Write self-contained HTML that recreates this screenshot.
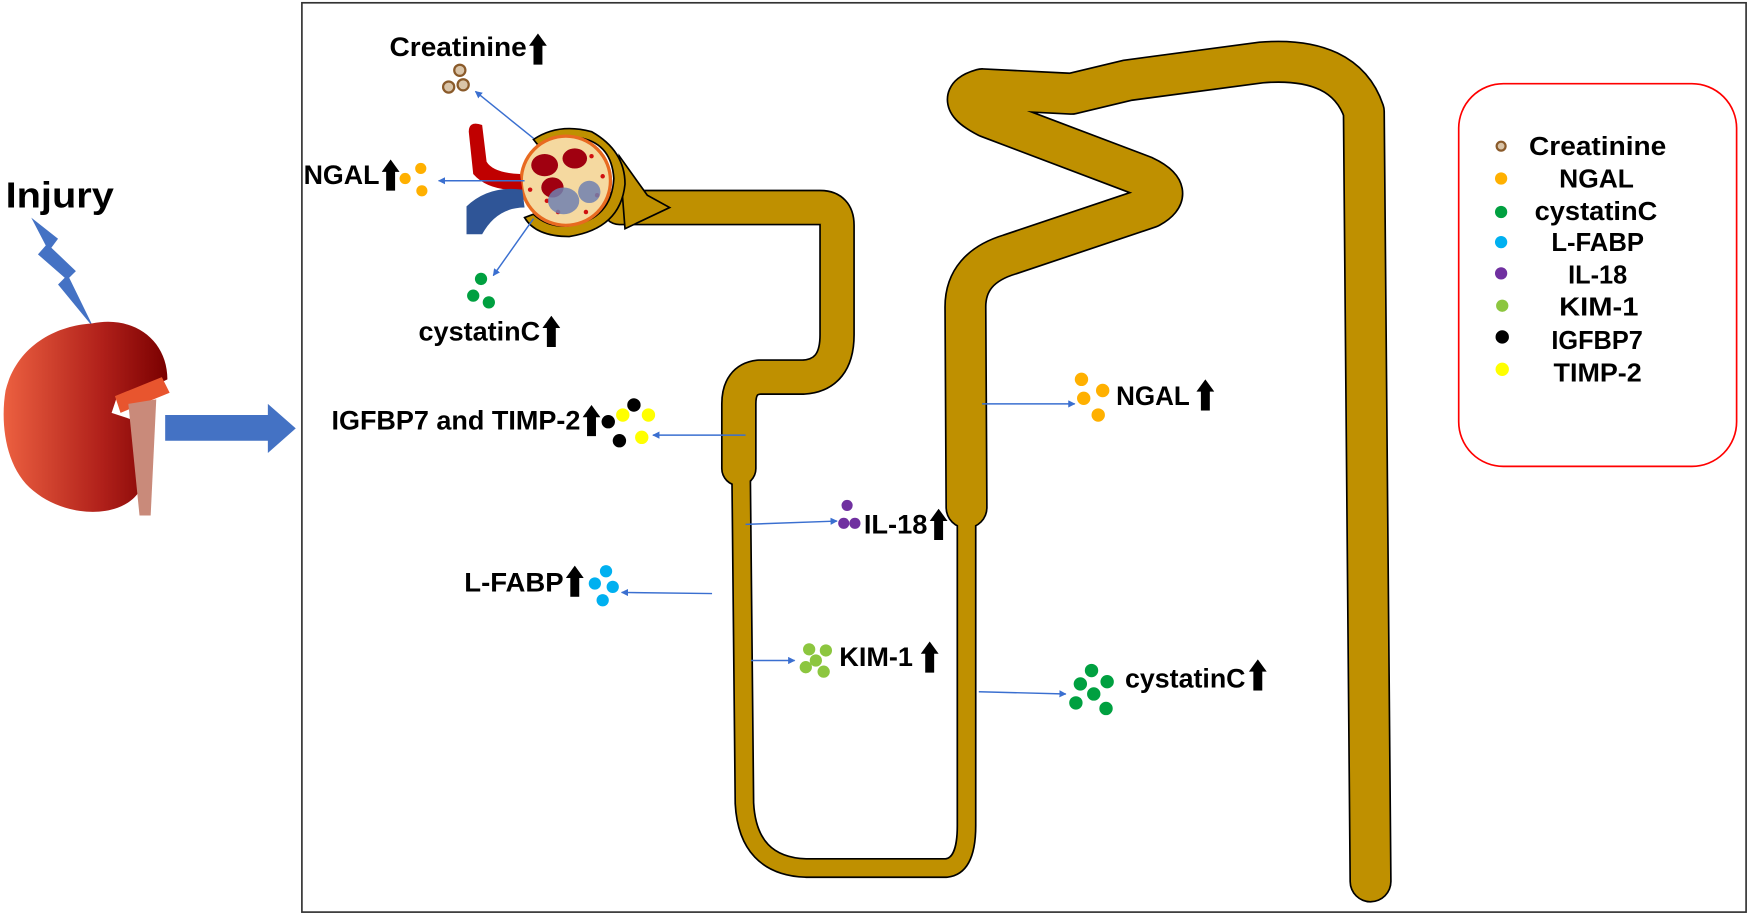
<!DOCTYPE html>
<html><head><meta charset="utf-8"><style>
html,body{margin:0;padding:0;background:#fff;}
svg{display:block;}
text{font-family:"Liberation Sans",Arial,sans-serif;font-weight:bold;fill:#000;}
</style></head><body>
<svg width="1750" height="916" viewBox="0 0 1568 821" preserveAspectRatio="none" xmlns="http://www.w3.org/2000/svg">
<defs>
<linearGradient id="kg" x1="0" x2="1" y1="0" y2="0">
<stop offset="0" stop-color="#ec6040"/><stop offset="0.6" stop-color="#b0201a"/><stop offset="1" stop-color="#7a0000"/>
</linearGradient>
<marker id="ah" viewBox="0 0 10 10" refX="9" refY="5" markerWidth="5" markerHeight="5" orient="auto"><path d="M0,0 L10,5 L0,10 z" fill="#3a6fd0"/></marker>
<symbol id="up" viewBox="0 0 16 28"><path d="M8,0 L16,11 L12,11 L12,28 L4,28 L4,11 L0,11 z" fill="#000"/></symbol>
</defs>

<rect x="270.5" y="2.5" width="1294" height="815" fill="none" stroke="#333" stroke-width="1.5"/>

<text x="5" y="186" font-size="32" textLength="97" lengthAdjust="spacingAndGlyphs">Injury</text>
<path d="M28,195 L52,214 L46,222 L68,243 L62,249 L84,294 L52,255 L58,249 L34,228 L41,220 z" fill="#4472c4"/>
<path d="M82,290 C120,282 150,305 150,340 L140,345 L105,355 L100,370 L130,380 L125,440 C110,465 60,465 30,440 C5,420 0,380 5,350 C15,310 50,292 82,290 z" fill="url(#kg)"/>
<path d="M103,355 L145,338 L152,352 L108,370 z" fill="#e8552e"/>
<path d="M115,362 L140,358 L135,462 L125,462 z" fill="#c98a7a"/>
<path d="M148,372 L240,372 L240,362 L265,384 L240,406 L240,395 L148,395 z" fill="#4472c4"/>

<g fill="none" stroke-linecap="round" stroke-linejoin="round">
<path d="M555,186 L735,186 Q750,186 750,202 L750,300 Q750,336 720,338 L680,338 Q662,340 662,362 L662,420" stroke="#000" stroke-width="32"/>
<path d="M664,420 L667,720 Q670,776 722,778 L848,778 Q866,776 866,740 L866,450" stroke="#000" stroke-width="18"/>
<path d="M866,455 L865,275 Q865,240 905,228 L1030,186 Q1055,172 1025,158 L885,105 Q852,88 880,80 L960,84 L1010,72 L1130,56 Q1205,50 1222,100 L1228,790" stroke="#000" stroke-width="38"/>
<path d="M555,186 L735,186 Q750,186 750,202 L750,300 Q750,336 720,338 L680,338 Q662,340 662,362 L662,420" stroke="#bf9000" stroke-width="29"/>
<path d="M664,420 L667,720 Q670,776 722,778 L848,778 Q866,776 866,740 L866,450" stroke="#bf9000" stroke-width="15"/>
<path d="M866,455 L865,275 Q865,240 905,228 L1030,186 Q1055,172 1025,158 L885,105 Q852,88 880,80 L960,84 L1010,72 L1130,56 Q1205,50 1222,100 L1228,790" stroke="#bf9000" stroke-width="35"/>
</g>
<path d="M555,140 L580,175 L600,186 L560,205 Z" fill="#bf9000" stroke="#000" stroke-width="1.5"/>
<path d="M478,125 Q500,110 530,118 Q560,135 560,165 Q556,205 510,212 Q480,212 470,195 L478,192 Q492,205 512,202 Q548,196 550,160 Q548,130 522,124 Q500,120 482,130 z" fill="#bf9000" stroke="#000" stroke-width="1.5"/>
<circle cx="507" cy="162" r="40" fill="#f5d9a0" stroke="#e86a20" stroke-width="3"/>
<g fill="#d01010">
<circle cx="480" cy="150" r="2"/><circle cx="490" cy="180" r="2"/><circle cx="530" cy="140" r="2"/><circle cx="535" cy="175" r="2"/><circle cx="500" cy="190" r="2"/><circle cx="525" cy="190" r="2"/><circle cx="475" cy="170" r="2"/><circle cx="540" cy="158" r="2"/>
</g>
<ellipse cx="488" cy="148" rx="12" ry="10" fill="#a00010"/>
<ellipse cx="515" cy="142" rx="11" ry="9" fill="#a00010"/>
<ellipse cx="495" cy="168" rx="10" ry="9" fill="#a00010"/>
<ellipse cx="505" cy="180" rx="14" ry="12" fill="#7080b0" opacity="0.85"/>
<ellipse cx="528" cy="172" rx="10" ry="10" fill="#7080b0" opacity="0.85"/>
<path d="M420,118 Q420,108 432,112 L436,145 Q442,155 466,156 L468,170 Q438,172 424,156 z" fill="#c00000"/>
<path d="M418,185 Q438,166 468,170 L470,186 Q445,186 432,210 L418,210 z" fill="#2f5597"/>

<g stroke="#3a6fd0" stroke-width="1.3" fill="none" marker-end="url(#ah)">
<line x1="478" y1="124" x2="426" y2="82"/>
<line x1="470" y1="162" x2="393" y2="162"/>
<line x1="478" y1="196" x2="442" y2="247"/>
<line x1="668" y1="390" x2="585" y2="390"/>
<line x1="668" y1="470" x2="750" y2="467"/>
<line x1="638" y1="532" x2="557" y2="531"/>
<line x1="673" y1="592" x2="712" y2="592"/>
<line x1="880" y1="362" x2="963" y2="362"/>
<line x1="877" y1="620" x2="955" y2="622"/>
</g>

<g font-size="24">
<text x="349" y="50" textLength="123" lengthAdjust="spacingAndGlyphs">Creatinine</text>
<text x="272" y="165" textLength="68" lengthAdjust="spacingAndGlyphs">NGAL</text>
<text x="375" y="305" textLength="109" lengthAdjust="spacingAndGlyphs">cystatinC</text>
<text x="297" y="385" textLength="223" lengthAdjust="spacingAndGlyphs">IGFBP7 and TIMP-2</text>
<text x="774" y="478" textLength="57" lengthAdjust="spacingAndGlyphs">IL-18</text>
<text x="416" y="530" textLength="89" lengthAdjust="spacingAndGlyphs">L-FABP</text>
<text x="752" y="597" textLength="66" lengthAdjust="spacingAndGlyphs">KIM-1</text>
<text x="1000" y="363" textLength="66" lengthAdjust="spacingAndGlyphs">NGAL</text>
<text x="1008" y="616" textLength="108" lengthAdjust="spacingAndGlyphs">cystatinC</text>
</g>
<use href="#up" x="474" y="30" width="16" height="28"/>
<use href="#up" x="342" y="143" width="16" height="28"/>
<use href="#up" x="486" y="283" width="16" height="28"/>
<use href="#up" x="522" y="363" width="16" height="28"/>
<use href="#up" x="833" y="456" width="16" height="28"/>
<use href="#up" x="507" y="507" width="16" height="28"/>
<use href="#up" x="825" y="575" width="16" height="28"/>
<use href="#up" x="1072" y="340" width="16" height="28"/>
<use href="#up" x="1119" y="591" width="16" height="28"/>

<g fill="#d9c4a8" stroke="#8a5a2a" stroke-width="2"><circle cx="412" cy="63" r="5"/><circle cx="402" cy="78" r="5"/><circle cx="415" cy="76" r="5"/></g>
<g fill="#ffb000"><circle cx="363" cy="160" r="5"/><circle cx="377" cy="151" r="5"/><circle cx="378" cy="171" r="5"/></g>
<g fill="#00a040"><circle cx="431" cy="250" r="5.5"/><circle cx="424" cy="265" r="5.5"/><circle cx="438" cy="271" r="5.5"/></g>
<g><circle cx="568" cy="363" r="6" fill="#000"/><circle cx="545" cy="378" r="6" fill="#000"/><circle cx="555" cy="395" r="6" fill="#000"/>
<circle cx="558" cy="372" r="6" fill="#ffff00"/><circle cx="581" cy="372" r="6" fill="#ffff00"/><circle cx="575" cy="392" r="6" fill="#ffff00"/></g>
<g fill="#7030a0"><circle cx="759" cy="453" r="5"/><circle cx="756" cy="469" r="5"/><circle cx="766" cy="469" r="5"/></g>
<g fill="#00b0f0"><circle cx="543" cy="512" r="5.5"/><circle cx="549" cy="526" r="5.5"/><circle cx="533" cy="523" r="5.5"/><circle cx="540" cy="538" r="5.5"/></g>
<g fill="#8cc63f"><circle cx="725" cy="582" r="5.5"/><circle cx="740" cy="583" r="5.5"/><circle cx="731" cy="592" r="5.5"/><circle cx="722" cy="598" r="5.5"/><circle cx="738" cy="602" r="5.5"/></g>
<g fill="#ffb000"><circle cx="969" cy="340" r="6"/><circle cx="988" cy="350" r="6"/><circle cx="971" cy="357" r="6"/><circle cx="984" cy="372" r="6"/></g>
<g fill="#00a040"><circle cx="978" cy="601" r="6"/><circle cx="968" cy="613" r="6"/><circle cx="992" cy="611" r="6"/><circle cx="980" cy="622" r="6"/><circle cx="964" cy="630" r="6"/><circle cx="991" cy="635" r="6"/></g>

<rect x="1307" y="75" width="249" height="343" rx="40" fill="none" stroke="#f00" stroke-width="1.5"/>
<circle cx="1345" cy="131" r="4" fill="#d9c4a8" stroke="#8a5a2a" stroke-width="2"/>
<circle cx="1345" cy="160" r="5.5" fill="#ffb000"/>
<circle cx="1345" cy="190" r="5.5" fill="#00a040"/>
<circle cx="1345" cy="217" r="5.5" fill="#00b0f0"/>
<circle cx="1345" cy="245" r="5.5" fill="#7030a0"/>
<circle cx="1346" cy="274" r="5.5" fill="#8cc63f"/>
<circle cx="1346" cy="302" r="6" fill="#000"/>
<circle cx="1346" cy="331" r="6" fill="#ffff00"/>
<g font-size="23">
<text x="1370" y="139" textLength="123" lengthAdjust="spacingAndGlyphs">Creatinine</text>
<text x="1397" y="168" textLength="67" lengthAdjust="spacingAndGlyphs">NGAL</text>
<text x="1375" y="197" textLength="110" lengthAdjust="spacingAndGlyphs">cystatinC</text>
<text x="1390" y="225" textLength="83" lengthAdjust="spacingAndGlyphs">L-FABP</text>
<text x="1405" y="254" textLength="53" lengthAdjust="spacingAndGlyphs">IL-18</text>
<text x="1397" y="283" textLength="71" lengthAdjust="spacingAndGlyphs">KIM-1</text>
<text x="1390" y="313" textLength="82" lengthAdjust="spacingAndGlyphs">IGFBP7</text>
<text x="1392" y="342" textLength="79" lengthAdjust="spacingAndGlyphs">TIMP-2</text>
</g>
</svg>
</body></html>
